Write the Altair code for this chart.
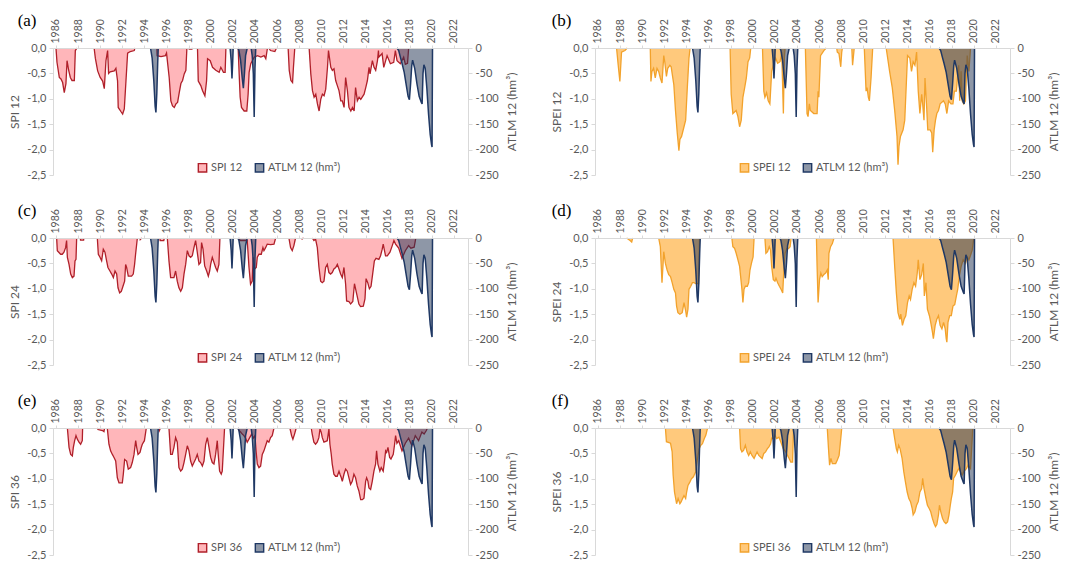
import altair as alt
import pandas as pd

# ---------------- data ----------------
X_TICKS = list(range(1986, 2023, 2))
LEFT_TICKS = [0, -0.5, -1.0, -1.5, -2.0, -2.5]
RIGHT_TICKS = [0, -50, -100, -150, -200, -250]
ATLM_NAME = "ATLM 12 (hm³)"

ATLM12 = [
    (1994.55, 0), (1994.7, -20), (1994.85, -65), (1994.97, -115), (1995.04, -127), (1995.12, -90),
    (1995.2, -30), (1995.25, 0),
    (2001.75, 0), (2001.85, -25), (2001.92, -60), (2001.98, -30), (2002.03, 0),
    (2002.45, 0), (2002.55, -5), (2002.7, -25), (2002.85, -60), (2002.95, -79), (2003.05, -50),
    (2003.15, -15), (2003.3, 0),
    (2003.65, 0), (2003.75, -15), (2003.85, -50), (2003.93, -136), (2004.0, -40), (2004.07, 0),
    (2016.85, 0), (2017.0, -5), (2017.15, -18), (2017.3, -30), (2017.5, -48), (2017.7, -75),
    (2017.85, -95), (2017.97, -102), (2018.08, -70), (2018.18, -35), (2018.26, -24), (2018.45, -40),
    (2018.65, -70), (2018.85, -95), (2019.05, -107), (2019.12, -110), (2019.2, -50), (2019.28, -33),
    (2019.4, -40), (2019.55, -80), (2019.7, -130), (2019.85, -170), (2019.97, -190), (2020.02, -195),
    (2020.06, 0),
]

SPI12 = [
    (1986.0, 0), (1986.09, -0.28), (1986.3, -0.58), (1986.45, -0.61), (1986.6, -0.68), (1986.75, -0.88),
    (1986.9, -0.7), (1987.0, -0.25), (1987.15, -0.44), (1987.3, -0.58), (1987.45, -0.64), (1987.66, -0.64),
    (1987.75, -0.05), (1987.9, 0),
    (1989.45, 0), (1989.56, -0.2), (1989.77, -0.45), (1990.0, -0.58), (1990.22, -0.65), (1990.37, -0.8),
    (1990.52, -0.25), (1990.67, -0.05), (1990.76, -0.5), (1990.9, -0.47), (1991.27, -0.45), (1991.42, -0.4),
    (1991.57, -0.65), (1991.63, -1.17), (1991.87, -1.25), (1992.03, -1.3), (1992.18, -1.2), (1992.33, -0.65),
    (1992.48, -0.1), (1992.72, -0.07), (1993.08, -0.05), (1993.14, 0),
    (1995.13, 0), (1995.15, -0.15), (1995.5, -0.17), (1995.9, -0.15), (1996.0, -0.1), (1996.24, -0.58),
    (1996.39, -1.04), (1996.54, -1.14), (1996.7, -1.17), (1996.85, -1.1), (1997.0, -1.07), (1997.15, -0.88),
    (1997.3, -0.7), (1997.45, -0.64), (1997.6, -0.51), (1997.75, -0.44), (1997.84, 0),
    (1998.0, 0), (1998.05, -0.02), (1998.3, -0.02), (1998.35, 0),
    (1998.8, 0), (1998.87, -0.65), (1999.1, -0.74), (1999.26, -0.84), (1999.47, -0.94), (1999.62, -0.65),
    (1999.71, -0.21), (1999.95, -0.25), (2000.16, -0.38), (2000.46, -0.44), (2000.76, -0.48), (2000.91, -0.38),
    (2001.15, -0.48), (2001.3, -0.48), (2001.37, 0),
    (2002.48, 0), (2002.57, -0.51), (2002.66, -0.97), (2002.78, -1.17), (2003.02, -1.24), (2003.26, -1.24),
    (2003.38, -0.91), (2003.47, -0.48), (2003.62, -0.31), (2003.93, -0.18), (2004.23, -0.15), (2004.53, -0.18),
    (2004.83, -0.15), (2004.98, -0.21), (2005.13, 0),
    (2005.25, 0), (2005.4, -0.05), (2005.8, -0.07), (2005.95, 0),
    (2007.0, 0), (2007.1, -0.44), (2007.25, -0.64), (2007.4, -0.68), (2007.48, -0.38), (2007.6, 0),
    (2008.9, 0), (2009.05, -0.51), (2009.2, -0.84), (2009.35, -0.97), (2009.5, -0.91), (2009.65, -1.1),
    (2009.8, -1.24), (2009.95, -1.01), (2010.1, -0.91), (2010.25, -0.94), (2010.4, -0.81), (2010.56, -0.38),
    (2010.65, -0.05), (2010.86, -0.38), (2011.0, -0.44), (2011.15, -0.41), (2011.3, -0.64), (2011.45, -0.74),
    (2011.6, -0.84), (2011.76, -1.04), (2011.9, -1.04), (2012.06, -1.17), (2012.2, -0.58), (2012.36, -0.84),
    (2012.5, -1.17), (2012.67, -1.24), (2012.82, -1.17), (2012.97, -1.24), (2013.1, -0.78), (2013.26, -1.04),
    (2013.42, -0.97), (2013.57, -1.01), (2013.87, -0.91), (2014.02, -0.78), (2014.17, -0.64), (2014.32, -0.38),
    (2014.41, -0.51), (2014.62, -0.25), (2014.77, -0.38), (2014.92, -0.44), (2015.08, -0.25), (2015.17, -0.05),
    (2015.2, -0.18), (2015.5, -0.11), (2015.65, -0.38), (2015.95, -0.15), (2016.25, -0.31), (2016.55, -0.28),
    (2016.7, -0.05), (2016.85, -0.25), (2017.15, -0.31), (2017.45, -0.18), (2017.6, -0.32), (2017.8, -0.3),
    (2017.9, 0),
]

SPEI12 = [
    (1987.68, 0), (1987.83, -0.34), (1987.98, -0.66), (1988.13, -0.08), (1988.44, -0.05), (1988.65, 0),
    (1990.73, 0), (1990.79, -0.66), (1990.88, -0.46), (1991.03, -0.4), (1991.18, -0.59), (1991.34, -0.4),
    (1991.49, -0.46), (1991.64, -0.59), (1991.79, -0.69), (1991.95, -0.15), (1992.04, -0.27), (1992.19, -0.56),
    (1992.31, -0.4), (1992.5, -0.34), (1992.62, -0.37), (1992.86, -0.72), (1993.01, -1.23), (1993.17, -1.67),
    (1993.32, -2.02), (1993.41, -1.8), (1993.56, -1.74), (1993.78, -1.55), (1993.93, -1.42), (1994.08, -0.78),
    (1994.23, -0.2), (1994.33, 0),
    (1997.95, 0), (1998.05, -0.91), (1998.2, -1.29), (1998.5, -1.23), (1998.66, -1.35), (1998.81, -1.55),
    (1998.96, -1.42), (1999.11, -0.97), (1999.27, -0.78), (1999.42, -0.59), (1999.57, -0.27), (1999.72, -0.2),
    (1999.82, 0),
    (2000.88, 0), (2001.0, -0.85), (2001.1, -0.97), (2001.25, -0.88), (2001.4, -1.04), (2001.55, -1.1),
    (2001.71, -0.46), (2001.86, -0.34), (2002.07, -0.2), (2002.25, -0.3), (2002.47, -0.27), (2002.62, -0.08),
    (2002.77, -1.29), (2002.86, -0.2), (2002.93, 0),
    (2004.76, 0), (2004.91, -1.29), (2005.0, -1.35), (2005.12, -1.1), (2005.21, -1.23), (2005.52, -1.29),
    (2005.82, -1.29), (2005.91, -0.85), (2005.98, -0.97), (2006.13, -0.15), (2006.43, -0.05), (2006.65, 0),
    (2007.59, 0), (2007.65, -0.08), (2007.8, -0.11), (2007.96, -0.37), (2008.05, -0.08), (2008.11, 0),
    (2008.96, 0), (2009.03, -0.34), (2009.18, 0),
    (2010.09, 0), (2010.25, -0.85), (2010.34, -0.78), (2010.46, -0.97), (2010.55, -1.04), (2010.7, -0.59),
    (2010.85, 0),
    (2012.07, 0), (2012.38, -0.46), (2012.62, -0.78), (2012.84, -1.23), (2013.05, -1.74), (2013.14, -2.3),
    (2013.23, -1.93), (2013.36, -1.74), (2013.6, -1.61), (2013.75, -1.42), (2013.9, -0.66), (2014.0, -0.15),
    (2014.21, -0.2), (2014.36, -0.46), (2014.51, -0.27), (2014.67, -0.34), (2014.82, -0.08), (2014.97, -0.85),
    (2015.12, -1.29), (2015.28, -0.91), (2015.37, -1.1), (2015.49, -1.42), (2015.58, -0.59), (2015.73, -1.16),
    (2015.83, -1.61), (2016.04, -1.61), (2016.19, -1.67), (2016.28, -2.05), (2016.41, -1.61), (2016.53, -1.42),
    (2016.65, -1.29), (2016.8, -1.23), (2016.95, -1.1), (2017.26, -1.04), (2017.41, -1.1), (2017.56, -1.29),
    (2017.72, -1.04), (2017.93, -1.1), (2018.11, -1.1), (2018.24, -0.85), (2018.42, -0.85), (2018.54, -0.53),
    (2018.63, -0.34), (2018.72, -1.04), (2018.85, -0.46), (2018.94, -1.04), (2019.09, -1.1), (2019.24, -1.04),
    (2019.4, -0.15), (2019.55, -0.46), (2019.7, 0),
]

SPI24 = [
    (1986.06, 0), (1986.12, -0.25), (1986.42, -0.32), (1986.57, -0.32), (1986.72, -0.28), (1986.87, -0.19),
    (1986.96, -0.05), (1987.03, -0.38), (1987.18, -0.52), (1987.33, -0.71), (1987.48, -0.78), (1987.63, -0.75),
    (1987.72, -0.45), (1987.81, -0.42), (1987.87, 0),
    (1988.2, 0), (1988.22, -0.04), (1988.5, -0.04), (1988.52, 0),
    (1989.74, 0), (1989.83, -0.32), (1989.98, -0.38), (1990.13, -0.45), (1990.28, -0.22), (1990.43, -0.28),
    (1990.58, -0.45), (1990.7, -0.58), (1990.88, -0.65), (1991.04, -0.71), (1991.19, -0.78), (1991.34, -0.65),
    (1991.49, -0.71), (1991.61, -0.98), (1991.76, -1.08), (1991.91, -1.05), (1992.06, -0.95), (1992.21, -0.85),
    (1992.3, -0.52), (1992.39, -0.58), (1992.54, -0.75), (1992.84, -0.75), (1992.99, -0.71), (1993.11, -0.52),
    (1993.2, -0.32), (1993.36, 0),
    (1993.6, 0), (1993.62, -0.03), (1993.75, 0),
    (1995.4, 0), (1995.42, -0.05), (1995.75, -0.05), (1995.8, 0),
    (1996.07, 0), (1996.22, -0.45), (1996.37, -0.78), (1996.67, -0.78), (1996.82, -0.65), (1996.97, -0.85),
    (1997.12, -0.98), (1997.28, -1.05), (1997.43, -0.98), (1997.58, -0.71), (1997.73, -0.52), (1997.88, -0.25),
    (1998.03, -0.35), (1998.18, -0.38), (1998.33, -0.35), (1998.48, -0.19), (1998.63, -0.05), (1998.78, -0.28),
    (1998.93, -0.52), (1999.08, -0.48), (1999.17, -0.09), (1999.3, -0.22), (1999.45, -0.55), (1999.63, -0.65),
    (1999.78, -0.75), (1999.9, -0.65), (1999.99, -0.52), (2000.14, -0.38), (2000.29, -0.48), (2000.44, -0.58),
    (2000.59, -0.65), (2000.74, -0.52), (2000.83, 0),
    (2002.55, 0), (2002.64, -0.05), (2003.3, -0.05), (2003.46, -0.58), (2003.6, -0.91), (2003.75, -0.85),
    (2003.84, -0.38), (2003.97, -0.61), (2004.12, -0.58), (2004.21, -0.38), (2004.36, -0.32), (2004.57, -0.32),
    (2004.72, -0.19), (2004.81, -0.25), (2004.96, -0.19), (2005.11, -0.12), (2005.41, -0.13), (2005.72, -0.12),
    (2005.87, 0),
    (2007.07, 0), (2007.22, -0.19), (2007.37, -0.25), (2007.52, -0.15), (2007.67, 0),
    (2008.25, 0), (2008.27, -0.02), (2008.4, 0),
    (2009.18, 0), (2009.33, -0.05), (2009.48, -0.02), (2009.64, -0.19), (2009.79, -0.58), (2009.94, -0.85),
    (2010.09, -0.88), (2010.24, -0.85), (2010.39, -0.58), (2010.54, -0.52), (2010.69, -0.68), (2010.84, -0.71),
    (2010.99, -0.68), (2011.14, -0.61), (2011.3, -0.58), (2011.45, -0.52), (2011.6, -0.61), (2011.75, -0.71),
    (2011.9, -0.78), (2012.05, -0.58), (2012.2, -0.91), (2012.29, -1.24), (2012.5, -1.25), (2012.65, -1.3),
    (2012.85, -1.25), (2013.0, -0.9), (2013.2, -1.1), (2013.4, -1.3), (2013.55, -1.35), (2013.8, -1.34),
    (2013.95, -1.2), (2014.05, -0.8), (2014.2, -0.88), (2014.35, -1.0), (2014.5, -0.95), (2014.65, -0.7),
    (2014.8, -0.45), (2014.95, -0.4), (2015.21, -0.42), (2015.36, -0.35), (2015.51, -0.22), (2015.6, -0.12),
    (2015.81, -0.35), (2015.97, -0.35), (2016.21, -0.28), (2016.42, -0.15), (2016.57, -0.05), (2016.72, -0.12),
    (2017.0, -0.2), (2017.3, -0.4), (2017.6, -0.25), (2017.9, -0.15), (2018.1, -0.2), (2018.4, -0.18),
    (2018.55, 0),
]

SPEI24 = [
    (1988.59, 0), (1988.9, -0.05), (1989.05, -0.08), (1989.14, 0),
    (1991.49, 0), (1991.64, -0.17), (1991.79, -0.88), (1991.89, -0.5), (1991.95, -0.27), (1992.1, -0.5),
    (1992.25, -0.63), (1992.4, -0.72), (1992.56, -0.76), (1992.71, -0.88), (1992.86, -1.01), (1993.01, -1.08),
    (1993.11, -1.34), (1993.23, -1.47), (1993.41, -1.5), (1993.62, -1.47), (1993.78, -1.27), (1993.93, -1.43),
    (1994.02, -1.56), (1994.14, -1.4), (1994.23, -1.01), (1994.39, -0.95), (1994.54, -0.88), (1994.69, -0.88),
    (1994.85, -0.9), (1995.1, -0.9), (1995.18, 0),
    (1998.11, 0), (1998.2, -0.17), (1998.35, -0.2), (1998.5, -0.3), (1998.66, -0.43), (1998.81, -0.56),
    (1998.9, -0.75), (1999.02, -1.01), (1999.11, -1.27), (1999.21, -1.01), (1999.33, -0.95), (1999.51, -0.95),
    (1999.63, -0.88), (1999.75, -0.63), (1999.88, -0.5), (2000.03, -0.37), (2000.12, 0),
    (2001.1, 0), (2001.19, -0.3), (2001.34, -0.27), (2001.49, -0.17), (2001.61, -0.24), (2001.71, -0.56),
    (2001.86, -0.82), (2002.01, -0.85), (2002.1, -0.79), (2002.25, -0.88), (2002.41, -0.95), (2002.56, -1.01),
    (2002.71, -1.08), (2002.83, -0.56), (2002.93, -0.3), (2003.08, -0.21), (2003.23, -0.21), (2003.38, -0.17),
    (2003.47, 0),
    (2005.76, 0), (2005.82, -0.56), (2005.91, -1.27), (2006.04, -0.82), (2006.16, -0.69), (2006.28, -0.76),
    (2006.43, -0.72), (2006.59, -0.69), (2006.74, -0.63), (2006.83, -0.82), (2006.89, -0.3), (2007.04, -0.17),
    (2007.2, -0.11), (2007.35, 0),
    (2012.69, 0), (2012.84, -0.56), (2012.99, -1.08), (2013.14, -1.47), (2013.3, -1.6), (2013.39, -1.5),
    (2013.54, -1.72), (2013.69, -1.6), (2013.84, -1.53), (2014.0, -1.27), (2014.15, -1.14), (2014.27, -1.21),
    (2014.42, -1.01), (2014.58, -0.88), (2014.73, -0.95), (2014.88, -0.69), (2014.97, -0.43), (2015.12, -0.82),
    (2015.28, -0.72), (2015.43, -0.5), (2015.52, -1.14), (2015.67, -0.88), (2015.8, -1.4), (2015.98, -1.53),
    (2016.1, -1.66), (2016.25, -1.85), (2016.34, -1.98), (2016.5, -1.72), (2016.65, -1.6), (2016.8, -1.53),
    (2016.95, -1.72), (2017.11, -1.79), (2017.26, -1.66), (2017.41, -1.79), (2017.5, -1.98), (2017.56, -2.05),
    (2017.66, -1.66), (2017.81, -1.53), (2017.96, -1.53), (2018.11, -1.34), (2018.27, -1.31), (2018.42, -1.14),
    (2018.54, -1.01), (2018.69, -0.75), (2018.85, -0.56), (2019.03, -0.43), (2019.24, -0.5), (2019.4, -0.37),
    (2019.55, -0.43), (2019.7, -0.34), (2019.85, -0.24), (2020.0, 0),
]

SPI36 = [
    (1987.03, 0), (1987.18, -0.38), (1987.33, -0.52), (1987.48, -0.55), (1987.57, -0.38), (1987.69, -0.25),
    (1987.81, -0.15), (1987.93, -0.22), (1988.08, -0.28), (1988.23, -0.32), (1988.38, -0.25), (1988.41, 0),
    (1989.74, 0), (1989.8, -0.03), (1990.2, -0.05), (1990.34, -0.07), (1990.4, 0),
    (1990.64, 0), (1990.79, -0.32), (1990.94, -0.45), (1991.1, -0.52), (1991.25, -0.58), (1991.4, -0.65),
    (1991.55, -0.98), (1991.7, -1.08), (1992.0, -1.08), (1992.09, -0.91), (1992.21, -0.62), (1992.39, -0.65),
    (1992.54, -0.81), (1992.75, -0.78), (1992.9, -0.68), (1993.06, -0.52), (1993.21, -0.25), (1993.3, -0.38),
    (1993.42, -0.52), (1993.6, -0.48), (1993.72, -0.38), (1993.81, -0.32), (1994.0, -0.25), (1994.17, 0),
    (1995.3, 0), (1995.35, -0.05), (1995.45, 0),
    (1996.22, 0), (1996.37, -0.52), (1996.52, -0.52), (1996.67, -0.38), (1996.82, -0.19), (1996.97, -0.28),
    (1997.12, -0.78), (1997.28, -0.85), (1997.43, -0.81), (1997.58, -0.68), (1997.73, -0.52), (1997.88, -0.35),
    (1998.03, -0.45), (1998.18, -0.65), (1998.33, -0.75), (1998.48, -0.68), (1998.63, -0.61), (1998.78, -0.52),
    (1998.93, -0.65), (1999.08, -0.68), (1999.24, -0.75), (1999.39, -0.65), (1999.54, -0.32), (1999.69, -0.19),
    (1999.84, -0.38), (1999.99, -0.58), (2000.14, -0.68), (2000.29, -0.71), (2000.44, -0.52), (2000.59, -0.25),
    (2000.65, -0.45), (2000.8, -0.85), (2000.95, -0.91), (2001.04, -0.85), (2001.25, 0),
    (2002.46, 0), (2002.55, -0.05), (2002.7, -0.08), (2002.85, -0.12), (2003.0, -0.15), (2003.15, -0.2),
    (2003.3, -0.28), (2003.5, -0.2), (2003.7, -0.12), (2003.85, -0.2), (2004.0, -0.15), (2004.1, -0.45),
    (2004.21, -0.71), (2004.36, -0.78), (2004.51, -0.75), (2004.66, -0.52), (2004.81, -0.45), (2004.96, -0.35),
    (2005.11, -0.25), (2005.26, -0.28), (2005.41, -0.19), (2005.56, -0.15), (2005.72, 0),
    (2007.16, 0), (2007.31, -0.15), (2007.43, -0.22), (2007.58, -0.12), (2007.73, 0),
    (2009.09, 0), (2009.18, -0.12), (2009.33, -0.28), (2009.48, -0.32), (2009.63, -0.28), (2009.78, -0.19),
    (2009.88, -0.02), (2010.0, -0.09), (2010.09, -0.19), (2010.24, -0.28), (2010.54, -0.25), (2010.69, -0.02),
    (2010.78, -0.32), (2010.9, -0.52), (2010.99, -0.71), (2011.14, -0.91), (2011.29, -0.95), (2011.44, -0.95),
    (2011.6, -0.85), (2011.69, -0.91), (2011.81, -0.98), (2011.9, -1.05), (2012.05, -0.91), (2012.2, -0.81),
    (2012.35, -0.85), (2012.5, -0.98), (2012.65, -1.11), (2012.8, -1.05), (2012.95, -0.91), (2013.1, -0.98),
    (2013.25, -1.14), (2013.4, -1.24), (2013.56, -1.41), (2013.71, -1.41), (2013.86, -1.38), (2014.01, -1.05),
    (2014.1, -0.98), (2014.22, -1.05), (2014.31, -1.18), (2014.46, -1.21), (2014.61, -1.05), (2014.76, -0.85),
    (2014.91, -0.71), (2015.0, -0.45), (2015.12, -0.71), (2015.3, -0.85), (2015.42, -0.78), (2015.6, -0.85),
    (2015.72, -0.65), (2015.82, -0.45), (2015.91, -0.48), (2016.03, -0.38), (2016.18, -0.58), (2016.3, -0.61),
    (2016.51, -0.52), (2016.63, -0.32), (2016.72, -0.15), (2016.84, -0.3), (2017.0, -0.25), (2017.3, -0.45),
    (2017.6, -0.3), (2017.9, -0.2), (2018.2, -0.35), (2018.5, -0.15), (2018.8, -0.25), (2019.1, -0.08),
    (2019.3, -0.12), (2019.5, -0.05), (2019.6, 0),
]

SPEI36 = [
    (1992.1, 0), (1992.19, -0.27), (1992.56, -0.3), (1992.71, -0.47), (1992.8, -0.93), (1992.92, -1.26),
    (1993.11, -1.49), (1993.25, -1.39), (1993.41, -1.49), (1993.53, -1.45), (1993.65, -1.39), (1993.78, -1.33),
    (1993.93, -1.39), (1994.02, -1.26), (1994.14, -1.13), (1994.32, -1.06), (1994.45, -1.0), (1994.63, -0.96),
    (1994.84, -0.86), (1995.0, -0.6), (1995.15, -0.41), (1995.3, -0.34), (1995.45, -0.31), (1995.61, -0.21),
    (1995.76, -0.14), (1995.91, 0),
    (1998.81, 0), (1998.9, -0.41), (1999.02, -0.47), (1999.17, -0.44), (1999.33, -0.34), (1999.48, -0.47),
    (1999.63, -0.54), (1999.78, -0.47), (1999.93, -0.54), (2000.12, -0.6), (2000.24, -0.54), (2000.39, -0.47),
    (2000.55, -0.54), (2000.7, -0.57), (2000.85, -0.6), (2001.0, -0.5), (2001.16, -0.47), (2001.31, -0.41),
    (2001.46, -0.37), (2001.61, -0.31), (2001.71, -0.2), (2001.86, -0.21), (2002.01, -0.14), (2002.16, -0.21),
    (2002.37, -0.18), (2002.53, -0.27), (2002.77, -0.41), (2002.98, -0.47), (2003.14, -0.54), (2003.29, -0.6),
    (2003.44, -0.67), (2003.6, -0.67), (2003.69, 0),
    (2006.74, 0), (2006.85, -0.4), (2006.95, -0.73), (2007.07, -0.6), (2007.2, -0.7), (2007.5, -0.7),
    (2007.65, -0.63), (2007.81, -0.54), (2007.96, -0.21), (2008.05, 0),
    (2012.69, 0), (2012.84, -0.21), (2012.99, -0.41), (2013.08, -0.47), (2013.2, -0.34), (2013.33, -0.41),
    (2013.51, -0.6), (2013.66, -0.86), (2013.81, -1.06), (2013.97, -1.26), (2014.12, -1.39), (2014.27, -1.45),
    (2014.42, -1.58), (2014.51, -1.71), (2014.67, -1.65), (2014.82, -1.52), (2014.97, -1.45), (2015.12, -1.26),
    (2015.28, -1.19), (2015.37, -0.99), (2015.49, -1.19), (2015.67, -1.39), (2015.8, -1.52), (2015.95, -1.58),
    (2016.1, -1.65), (2016.25, -1.78), (2016.4, -1.88), (2016.53, -1.94), (2016.65, -1.9), (2016.8, -1.71),
    (2016.89, -1.52), (2017.01, -1.65), (2017.17, -1.78), (2017.32, -1.85), (2017.47, -1.88), (2017.62, -1.85),
    (2017.75, -1.71), (2017.87, -1.52), (2017.96, -1.39), (2018.08, -1.26), (2018.17, -0.99), (2018.33, -0.93),
    (2018.48, -0.86), (2018.63, -0.8), (2018.79, -0.86), (2018.94, -0.93), (2019.09, -0.86), (2019.33, -0.8),
    (2019.48, -0.73), (2019.7, -0.8), (2019.85, -0.21), (2019.9, 0),
]

PANELS = [
    ("(a)", "SPI 12", SPI12, "red", 9),
    ("(b)", "SPEI 12", SPEI12, "orange", 1),
    ("(c)", "SPI 24", SPI24, "red", 9),
    ("(d)", "SPEI 24", SPEI24, "orange", 1),
    ("(e)", "SPI 36", SPI36, "red", 9),
    ("(f)", "SPEI 36", SPEI36, "orange", 1),
]

# ---------------- styles ----------------
FONT = "Lato"
TXT = "#595959"
AX = "#D9D9D9"
PALETTE = {
    "red": ("#FFB6BA", "#B0202A"),
    "orange": ("#FFC97C", "#F2A22C"),
}
ATLM_FILL = "rgba(29, 48, 80, 0.5)"
ATLM_STROKE = "#1F3864"
W, H = 415, 127


def outline_rows(points, name):
    """Split a series into drought events (runs of non-zero values with their zero ends)."""
    rows, seg, i, n = [], 0, 0, len(points)
    while i < n:
        if points[i][1] != 0:
            s = i
            while i < n and points[i][1] != 0:
                i += 1
            lo, hi = max(s - 1, 0), min(i, n - 1)
            for k in range(lo, hi + 1):
                rows.append({"year": points[k][0], "value": points[k][1], "seg": seg, "series": name})
            seg += 1
        else:
            i += 1
    return pd.DataFrame(rows)


X_AXIS = alt.Axis(
    orient="top", values=X_TICKS, format="d", labelAngle=270, title=None, grid=False,
    labelFont=FONT, labelFontSize=10.5, labelColor=TXT, domainColor=AX, tickColor=AX,
    tickSize=3, labelPadding=2, zindex=1, labelOverlap=False, labelFlush=False,
    labelAlign="left", labelBaseline="middle",
)
X_SCALE = alt.Scale(domain=[1985.73, 2023.27], nice=False, zero=False)


def make_panel(letter, name, pts, pal, title_dx):
    fill_c, stroke_c = PALETTE[pal]
    dom = [name, ATLM_NAME]
    fill_scale = alt.Scale(domain=dom, range=[fill_c, ATLM_FILL])
    stroke_scale = alt.Scale(domain=dom, range=[stroke_c, ATLM_STROKE])
    legend = alt.Legend(
        title=None, orient="none", legendX=144, legendY=H - 13, direction="horizontal",
        symbolType="square", symbolSize=70, symbolStrokeWidth=1.4, labelFont=FONT,
        labelFontSize=11, labelColor=TXT, columnPadding=9, labelOffset=3,
    )
    x = alt.X("year:Q", scale=X_SCALE, axis=X_AXIS)
    yl_scale = alt.Scale(domain=[-2.5, 0], nice=False, zero=False)
    yr_scale = alt.Scale(domain=[-250, 0], nice=False, zero=False)
    left_axis = alt.Axis(
        orient="left", values=LEFT_TICKS, title=name, grid=False,
        labelExpr="replace(replace(format(datum.value, '.1f'), '.', ','), '\u2212', '-')",
        labelFont=FONT, labelFontSize=11, labelColor=TXT, titleFont=FONT, titleFontSize=12,
        titleColor=TXT, titleFontWeight="normal", domainColor=AX, tickColor=AX, tickSize=4,
        labelPadding=3, titlePadding=5,
    )
    right_axis = alt.Axis(
        orient="right", values=RIGHT_TICKS, title=ATLM_NAME, grid=False,
        labelExpr="replace(format(datum.value, 'd'), '\u2212', '-')",
        labelFont=FONT, labelFontSize=11, labelColor=TXT, titleFont=FONT, titleFontSize=12,
        titleColor=TXT, titleFontWeight="normal", titleAngle=270, titleBaseline="top",
        domainColor=AX, tickColor=AX, tickSize=4, labelPadding=3, titlePadding=8,
    )

    idx_df = pd.DataFrame(pts, columns=["year", "value"]).assign(series=name)
    atlm_df = pd.DataFrame(ATLM12, columns=["year", "value"]).assign(series=ATLM_NAME)
    idx_seg = outline_rows(pts, name)
    atlm_seg = outline_rows(ATLM12, ATLM_NAME)

    idx_area = alt.Chart(idx_df).mark_area(interpolate="linear").encode(
        x=x, y=alt.Y("value:Q", scale=yl_scale, axis=left_axis),
        fill=alt.Fill("series:N", scale=fill_scale, legend=legend),
    )
    idx_line = alt.Chart(idx_seg).mark_line(strokeWidth=1.3, interpolate="linear").encode(
        x=x, y=alt.Y("value:Q", scale=yl_scale, axis=left_axis),
        detail="seg:N",
        stroke=alt.Stroke("series:N", scale=stroke_scale, legend=legend),
    )
    atlm_area = alt.Chart(atlm_df).mark_area(interpolate="linear").encode(
        x=x, y=alt.Y("value:Q", scale=yr_scale, axis=right_axis),
        fill=alt.Fill("series:N", scale=fill_scale, legend=legend),
    )
    atlm_line = alt.Chart(atlm_seg).mark_line(strokeWidth=1.5, interpolate="linear").encode(
        x=x, y=alt.Y("value:Q", scale=yr_scale, axis=right_axis),
        detail="seg:N",
        stroke=alt.Stroke("series:N", scale=stroke_scale, legend=legend),
    )
    left = alt.layer(idx_area, idx_line)
    right = alt.layer(atlm_area, atlm_line)
    return alt.layer(left, right).resolve_scale(y="independent").properties(
        width=W, height=H,
        title=alt.Title(
            letter, anchor="start", font="Liberation Serif", fontSize=17,
            fontWeight="normal", color="black", dx=title_dx, dy=11, offset=0,
        ),
    )


panels = [make_panel(*p) for p in PANELS]
chart = (
    alt.concat(*panels, columns=2, spacing={"row": 63, "column": 127}, bounds="flush")
    .resolve_scale(fill="independent", stroke="independent")
    .properties(padding={"left": 0, "top": 3, "right": 0, "bottom": 0}, background="white")
    .configure_view(stroke=None)
)

chart.save("out.html", embed_options={"renderer": "svg", "actions": False})
